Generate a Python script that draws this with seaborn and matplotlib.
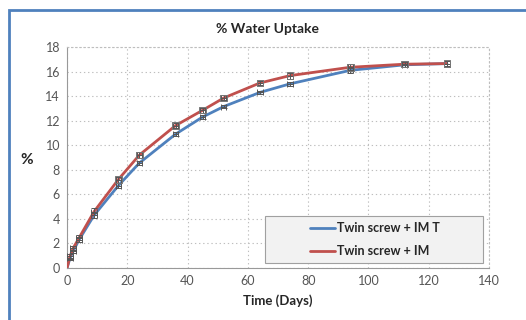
import pandas as pd
import matplotlib.pyplot as plt
import seaborn as sns
from matplotlib.patches import Rectangle

# Data
days = [0, 1, 2, 4, 9, 17, 24, 36, 45, 52, 64, 74, 94, 112, 126]
uptake_im_t = [0, 0.8, 1.35, 2.3, 4.3, 6.7, 8.55, 10.9, 12.3, 13.15, 14.3, 15.0, 16.1, 16.55, 16.65]
uptake_im = [0, 0.95, 1.6, 2.45, 4.6, 7.2, 9.2, 11.6, 12.85, 13.85, 15.07, 15.67, 16.35, 16.6, 16.65]
err_im_t = [0, 0.15, 0.15, 0.2, 0.2, 0.2, 0.2, 0.15, 0.15, 0.15, 0.15, 0.15, 0.2, 0.2, 0.2]
err_im = [0, 0.2, 0.2, 0.2, 0.25, 0.25, 0.25, 0.2, 0.2, 0.2, 0.2, 0.25, 0.25, 0.25, 0.25]
labels = ['Twin screw + IM T', 'Twin screw + IM']
colors = ['#4F81BD', '#C0504D']

df = pd.DataFrame({
    'Time': days * 2,
    'Uptake': uptake_im_t + uptake_im,
    'Series': [labels[0]] * len(days) + [labels[1]] * len(days),
})

sns.set_style('white')
plt.rcParams['font.family'] = ['Lato', 'DejaVu Sans']

W, H = 526, 320
fig = plt.figure(figsize=(W / 100, H / 100), dpi=100)
ax = fig.add_axes([67 / W, 1 - 268 / H, 422 / W, 221 / H])

# chart border like the Excel chart area
fig.patches.append(Rectangle((9 / W, -0.1), 1.2, 1 - 10 / H + 0.1,
                             transform=fig.transFigure, fill=False,
                             edgecolor='#4F81BD', linewidth=2))

sns.lineplot(data=df, x='Time', y='Uptake', hue='Series', palette=colors,
             linewidth=2, ax=ax, zorder=3)

# error bars (x and y) drawn on top of the curves
for y, err, mk in [(uptake_im_t, err_im_t, None), (uptake_im, err_im, 's')]:
    ax.errorbar(days[1:], y[1:], yerr=err[1:], xerr=0.9, fmt='none',
                ecolor='#555555', elinewidth=0.7, capsize=2, capthick=0.7, zorder=4)
    if mk:
        ax.scatter(days[5:], y[5:], marker='s', s=22, facecolor='none',
                   edgecolor='#777777', linewidth=0.7, zorder=5)

ax.set_xlim(0, 140)
ax.set_ylim(0, 18)
ax.set_xticks(range(0, 141, 20))
ax.set_yticks(range(0, 19, 2))
ax.tick_params(labelsize=9, length=0, pad=5, colors='#555555')
ax.grid(True, linestyle=(0, (1.2, 2.5)), color='#BEBEBE', linewidth=0.8)
for side in ['top', 'right']:
    ax.spines[side].set_linestyle((0, (1.2, 2.5)))
    ax.spines[side].set_color('#BEBEBE')
for side in ['left', 'bottom']:
    ax.spines[side].set_color('#999999')
    ax.spines[side].set_linewidth(0.8)

ax.set_xlabel('Time (Days)', fontsize=9.5, fontweight='bold', labelpad=5)
ax.set_ylabel('')
fig.text(27 / W, 1 - 160 / H, '%', fontsize=11, fontweight='bold', ha='center', va='center')
fig.text(267 / W, 1 - 29 / H, '% Water Uptake', fontsize=10, fontweight='bold',
         ha='center', va='center')

# legend box (wider than its contents, as in Excel)
ax.add_patch(Rectangle((265 / W, 1 - 263 / H), 218 / W, 47 / H,
                       transform=fig.transFigure, facecolor='#F2F2F2',
                       edgecolor='#A0A0A0', linewidth=0.8, zorder=6))
leg = ax.legend(loc='center', bbox_to_anchor=(375 / W, 1 - 239.5 / H),
                bbox_transform=fig.transFigure, frameon=False,
                fontsize=9, handlelength=2.0, borderpad=0, labelspacing=0.9,
                handletextpad=0.15, borderaxespad=0)
leg.set_zorder(7)
for t in leg.get_texts():
    t.set_fontweight('bold')
for h in leg.get_lines():
    h.set_linewidth(2)

fig.savefig('out.png', dpi=100)
